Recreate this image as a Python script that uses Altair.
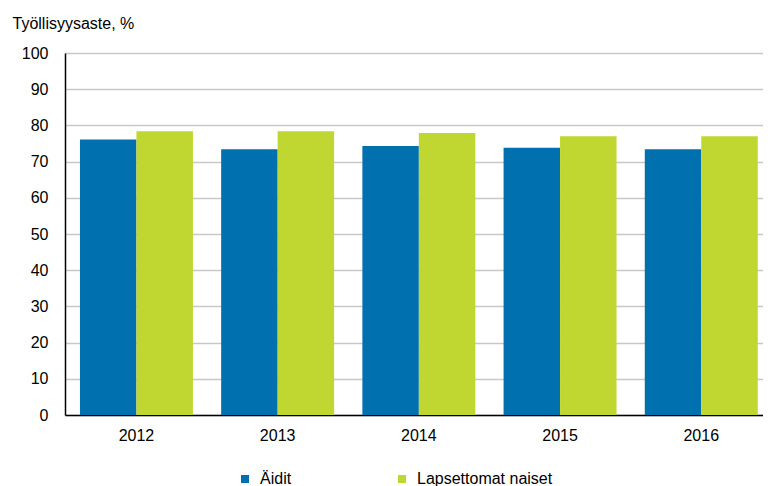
import altair as alt
import pandas as pd

years = ["2012", "2013", "2014", "2015", "2016"]
aidit = [76.1, 73.4, 74.3, 73.8, 73.4]
lapsettomat = [78.4, 78.4, 77.9, 77.0, 77.0]
series = ["Äidit", "Lapsettomat naiset"]
colors = ["#0070AE", "#BFD730"]

rows = []
for y, a, l in zip(years, aidit, lapsettomat):
    rows.append({"year": y, "series": series[0], "value": a})
    rows.append({"year": y, "series": series[1], "value": l})
df = pd.DataFrame(rows)

FONT = "Liberation Sans"

chart = alt.Chart(df).mark_bar().encode(
    x=alt.X("year:N", title=None,
            scale=alt.Scale(paddingInner=0.2, paddingOuter=0.0716, align=0.74),
            axis=alt.Axis(labelAngle=0, ticks=False, labelPadding=12,
                          domainColor="#000000", domainWidth=1.5,
                          labelFontSize=16, labelColor="#000000", labelFont=FONT)),
    xOffset=alt.XOffset("series:N", sort=series),
    y=alt.Y("value:Q", title="Työllisyysaste, %",
            scale=alt.Scale(domain=[0, 100], nice=False),
            axis=alt.Axis(values=list(range(0, 101, 10)), ticks=False, labelPadding=17,
                          domainColor="#000000", domainWidth=1.5,
                          gridColor="#c8c8c8", gridWidth=1.5,
                          labelFontSize=16, labelColor="#000000", labelFont=FONT,
                          titleAngle=0, titleAlign="left", titleBaseline="alphabetic",
                          titleX=-53, titleY=-25, titleFontSize=16, titleFontWeight="normal",
                          titleColor="#000000", titleFont=FONT)),
    color=alt.Color("series:N", sort=series,
                    scale=alt.Scale(domain=series, range=colors),
                    legend=alt.Legend(title=None, orient="none", direction="horizontal",
                                      legendX=172, legendY=418,
                                      symbolType="square", symbolSize=64,
                                      symbolStrokeWidth=0, labelOffset=7,
                                      columnPadding=102,
                                      labelFontSize=16, labelColor="#000000",
                                      labelFont=FONT)),
).properties(
    width=698, height=362, padding={"left": 4, "top": 7, "right": 0, "bottom": 5}
).configure_view(stroke=None)

chart.save("out.html", embed_options={"renderer": "svg", "actions": False})
